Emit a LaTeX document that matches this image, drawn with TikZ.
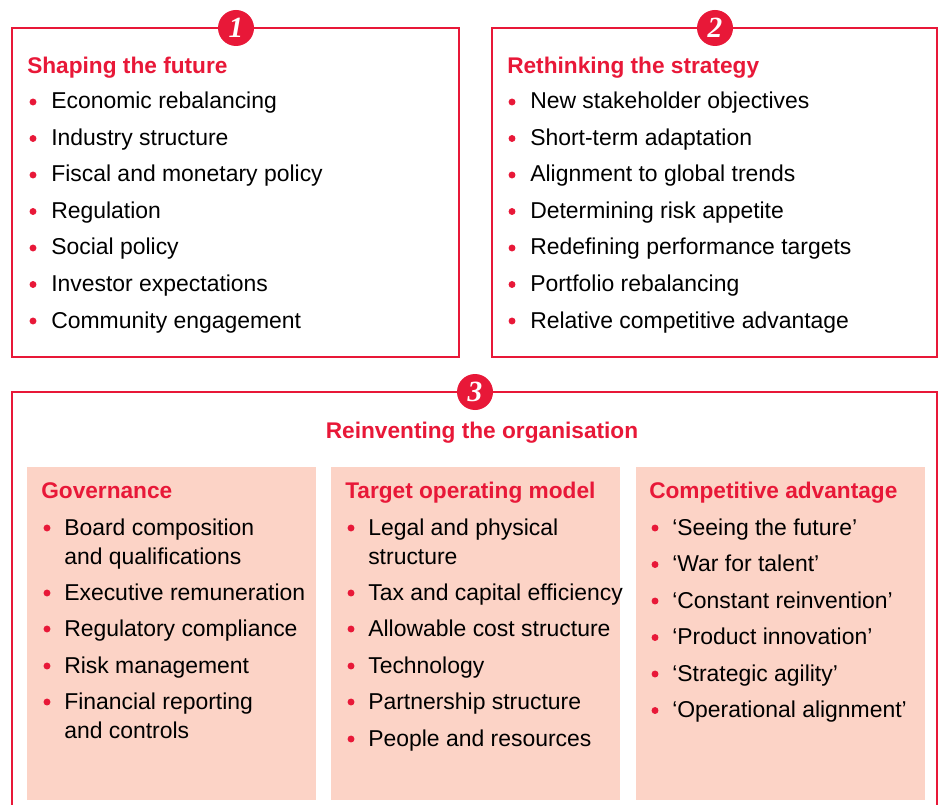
\documentclass[tikz,border=0pt]{standalone}
\usepackage{fontspec}
\setmainfont{Liberation Sans}
\newfontfamily\numfont{Liberation Serif}
\definecolor{kred}{RGB}{232,24,56}
\definecolor{kpink}{RGB}{252,211,198}

\tikzset{
  frame/.style={draw=kred, line width=1.5pt},
  panel/.style={fill=kpink},
  num/.style={circle, fill=kred, minimum size=27pt, inner sep=0pt, text=white,
    font=\numfont\bfseries\itshape\fontsize{22}{22}\selectfont},
  head/.style={anchor=base west, inner sep=0pt, text=kred,
    font=\bfseries\fontsize{17}{17}\selectfont},
  item/.style={anchor=base west, inner sep=0pt, font=\fontsize{17.2}{17.2}\selectfont},
  dot/.style={circle, fill=kred, inner sep=0pt, minimum size=5.2pt},
}

\begin{document}
\begin{tikzpicture}[x=0.75pt, y=-0.75pt]
    \useasboundingbox (0,0) rectangle (944,805);
    \clip (0,0) rectangle (944,805);

    % frames
    \draw[frame] (12,28) rectangle (459,357);
    \draw[frame] (492,28) rectangle (937,357);
    \draw[frame] (12,392) rectangle (937,840);

    % panels
    \fill[panel] (27,467) rectangle (316,800);
    \fill[panel] (331,467) rectangle (620,800);
    \fill[panel] (636,467) rectangle (925,800);

    \node[num] (n1) at (236,28) {1};
    \node[num] (n2) at (715,28) {2};
    \node[num] (n3) at (475,392) {3};

    \node[head] (h1) at (27,74) {Shaping the future};
    \node[head] (h2) at (507,74) {Rethinking the strategy};
    \node[head, anchor=base] (h3) at (482,438) {Reinventing the organisation};
    \node[head] (h4) at (41,498) {Governance};
    \node[head] (h5) at (345,498) {Target operating model};
    \node[head] (h6) at (649,498) {Competitive advantage};

    % box 1
    \foreach \t [count=\i] in {Economic rebalancing, Industry structure,
        Fiscal and monetary policy, Regulation, Social policy,
        Investor expectations, Community engagement}
    {
        \node[item] (a\i) at (51,{109+(\i-1)*36.5}) {\t};
        \node[dot] at (33,{102+(\i-1)*36.5}) {};
    }

    % box 2
    \foreach \t [count=\i] in {New stakeholder objectives, Short-term adaptation,
        Alignment to global trends, Determining risk appetite,
        Redefining performance targets, Portfolio rebalancing,
        Relative competitive advantage}
    {
        \node[item] (b\i) at (530,{109+(\i-1)*36.5}) {\t};
        \node[dot] at (512,{102+(\i-1)*36.5}) {};
    }

    % governance
    \foreach \y/\t/\b [count=\i] in {527/Board composition/1, 556/and qualifications/0,
        592/Executive remuneration/1, 628/Regulatory compliance/1,
        665/Risk management/1, 701/Financial reporting/1, 730/and controls/0}
    {
        \node[item] (c\i) at (64,\y+8) {\t};
        \ifnum\b=1 \node[dot] at (47,\y+1) {}; \fi
    }

    % target operating model
    \foreach \y/\t/\b [count=\i] in {527/Legal and physical/1, 556/structure/0,
        592/Tax and capital efficiency/1, 628/Allowable cost structure/1,
        665/Technology/1, 701/Partnership structure/1, 738/People and resources/1}
    {
        \node[item] (d\i) at (368,\y+8) {\t};
        \ifnum\b=1 \node[dot] at (351,\y+1) {}; \fi
    }

    % competitive advantage
    \foreach \t [count=\i] in {‘Seeing the future’, ‘War for talent’,
        ‘Constant reinvention’, ‘Product innovation’, ‘Strategic agility’,
        ‘Operational alignment’}
    {
        \node[item] (e\i) at (672,{535+(\i-1)*36.5}) {\t};
        \node[dot] at (655,{528+(\i-1)*36.5}) {};
    }
\end{tikzpicture}
\end{document}
